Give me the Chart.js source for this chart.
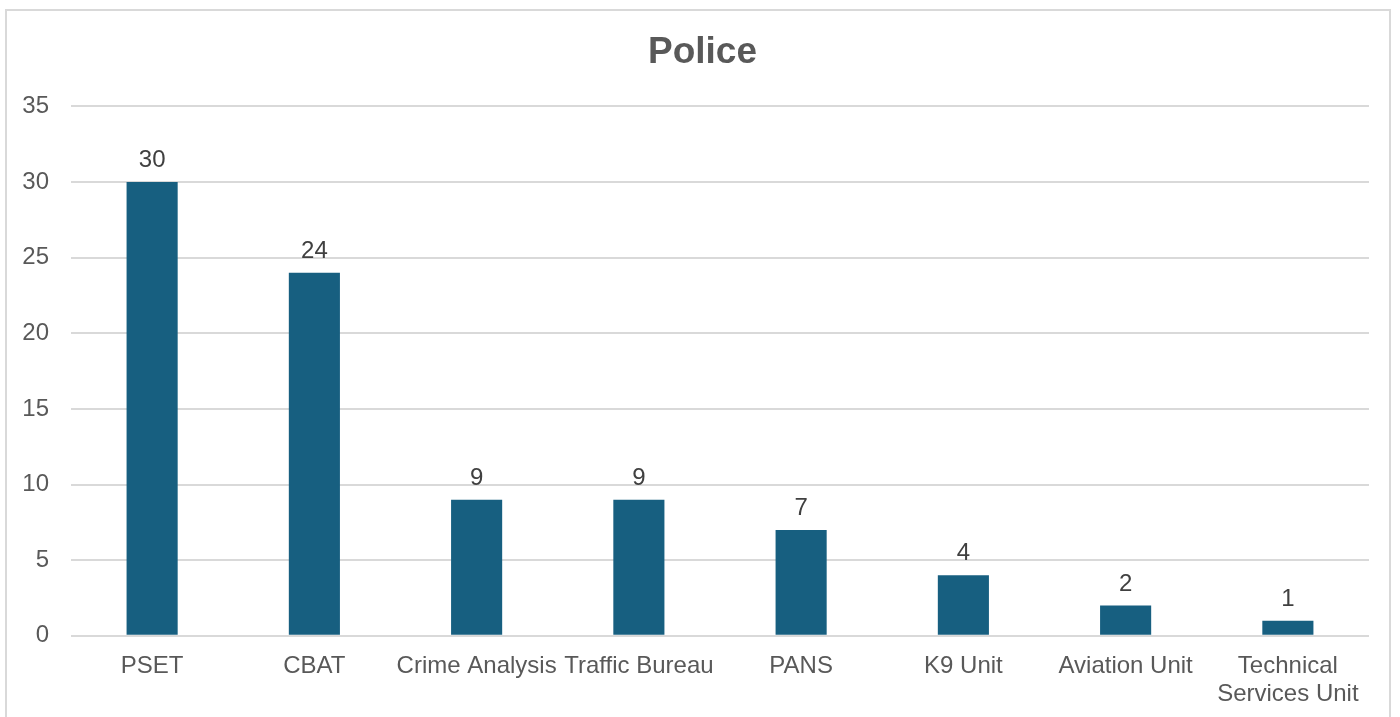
<!DOCTYPE html>
<html>
<head>
<meta charset="utf-8">
<script src="https://cdn.jsdelivr.net/npm/chart.js@4/dist/chart.umd.min.js"></script>
<style>
  body { margin: 0; background: #fff; }
  #wrap { position: relative; width: 1400px; height: 717px; }
  #frame { position: absolute; left: 5px; top: 9px; width: 1386px; height: 720px; border: 2px solid #d9d9d9; box-sizing: border-box; }
  canvas { position: absolute; left: 0; top: 0; }
</style>
</head>
<body>
<div id="wrap">
  <div id="frame"></div>
  <canvas id="myChart" width="1400" height="717"></canvas>
</div>
<script>
var categories = ["PSET", "CBAT", "Crime Analysis", "Traffic Bureau", "PANS", "K9 Unit", "Aviation Unit", ["Technical", "Services Unit"]];
var values = [30, 24, 9, 9, 7, 4, 2, 1];
var yTicks = [0, 5, 10, 15, 20, 25, 30, 35];

// draws the number above each bar
var barLabels = {
	id: "barLabels",
	afterDatasetsDraw: function (chart) {
		var ctx = chart.ctx;
		var meta = chart.getDatasetMeta(0);
		ctx.save();
		ctx.font = "24px 'Liberation Sans', Arial, sans-serif";
		ctx.fillStyle = "#404040";
		ctx.textAlign = "center";
		ctx.textBaseline = "alphabetic";
		meta.data.forEach(function (bar, i) {
			ctx.fillText(values[i], bar.x, bar.y - 15);
		});
		ctx.restore();
	},
};

Chart.defaults.font.family = "'Liberation Sans', Arial, sans-serif";
Chart.defaults.color = "#595959";

var ctx = document.querySelector("#myChart").getContext("2d");
var policeChart = new Chart(ctx, {
	type: "bar",
	data: {
		labels: categories,
		datasets: [
			{
				label: "Police",
				data: values,
				backgroundColor: "#175f80",
				categoryPercentage: 1,
				barPercentage: 0.315,
			},
		],
	},
	options: {
		responsive: false,
		animation: false,
		layout: { padding: { left: 20, right: 15, top: 31, bottom: 0 } },
		plugins: {
			legend: { display: false },
			tooltip: { enabled: false },
			title: {
				display: true,
				text: "Police",
				color: "#595959",
				font: { size: 37, weight: "bold" },
				padding: { top: 0, bottom: 31 },
			},
		},
		scales: {
			x: {
				grid: { display: false },
				border: { display: false },
				ticks: { font: { size: 24, lineHeight: 1.15 }, color: "#595959", padding: 9, maxRotation: 0, autoSkip: false },
			},
			y: {
				min: 0,
				max: 35,
				afterBuildTicks: function (axis) {
					axis.ticks = yTicks.map(function (v) { return { value: v }; });
				},
				afterFit: function (axis) {
					axis.width = 51;
				},
				grid: { color: "#d9d9d9", lineWidth: 2, drawTicks: false },
				border: { display: false },
				ticks: { font: { size: 24 }, color: "#595959", padding: 22 },
			},
			// empty right axis, keeps the plot edge where it is
			y2: {
				position: "right",
				grid: { display: false },
				border: { display: false },
				ticks: { display: false },
				afterFit: function (axis) {
					axis.width = 16;
				},
			},
		},
	},
	plugins: [barLabels],
});
</script>
</body>
</html>
